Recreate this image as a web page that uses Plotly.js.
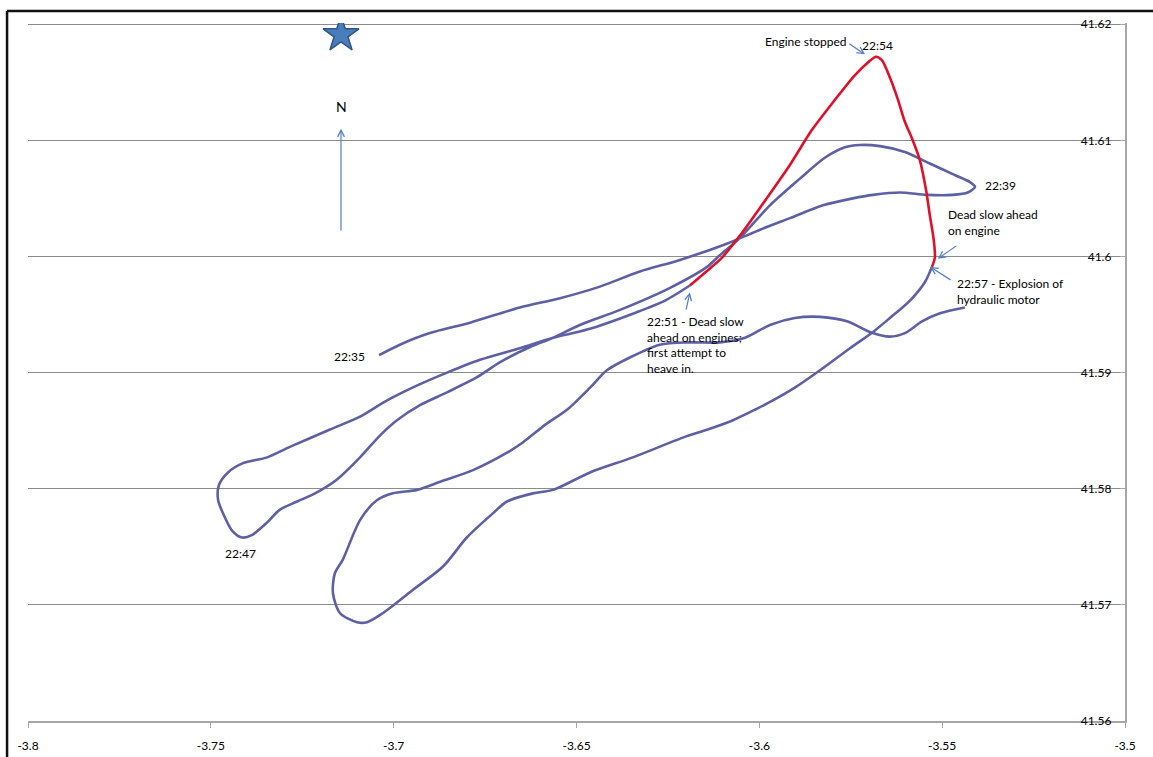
<!DOCTYPE html>
<html>
<head>
<meta charset="utf-8">
<script src="https://cdn.plot.ly/plotly-3.0.1.min.js"></script>
<style>
  html, body { margin: 0; padding: 0; background: #ffffff; }
  #chart { width: 1153px; height: 757px; }
</style>
</head>
<body>
<div id="chart"></div>
<script>
// Track 22:35 -> 22:51 (blue)
const trackLon = [-3.7040,-3.6983,-3.6901,-3.6791,-3.6655,-3.6545,-3.6436,-3.6327,-3.6217,-3.6089,-3.5998,-3.5916,-3.5826,-3.5744,-3.5689,-3.5616,-3.5542,-3.5471,-3.5430,-3.5410,
  -3.5424,-3.5465,-3.5534,-3.5602,-3.5670,-3.5725,-3.5766,-3.5821,-3.5889,-3.5971,-3.6053,-3.6108,-3.6143,-3.6244,-3.6381,-3.6491,-3.6564,-3.6627,-3.6709,-3.6772,-3.6854,-3.6928,-3.6991,-3.7037,-3.7092,-3.7155,-3.7215,-3.7264,-3.7311,-3.7346,-3.7388,-3.7415,
  -3.7442,-3.7464,-3.7480,-3.7478,-3.7453,-3.7412,-3.7346,-3.7284,-3.7174,-3.7092,-3.7018,-3.6928,-3.6854,-3.6764,-3.6655,-3.6564,-3.6471,-3.6335,-3.6258,-3.6190];
const trackLat = [41.5915,41.5924,41.5934,41.5943,41.5956,41.5964,41.5974,41.5987,41.5997,41.6011,41.6023,41.6033,41.6044,41.6050,41.6053,41.6055,41.6053,41.6053,41.6055,41.6060,
  41.6064,41.6070,41.6080,41.6090,41.6095,41.6096,41.6094,41.6085,41.6067,41.6044,41.6016,41.6001,41.5991,41.5973,41.5954,41.5941,41.5930,41.5922,41.5909,41.5896,41.5883,41.5872,41.5859,41.5846,41.5827,41.5808,41.5796,41.5789,41.5782,41.5771,41.5760,41.5758,
  41.5764,41.5777,41.5790,41.5803,41.5814,41.5822,41.5827,41.5836,41.5851,41.5862,41.5876,41.5890,41.5900,41.5911,41.5921,41.5930,41.5937,41.5952,41.5962,41.5975];

// 22:51 -> 22:57 (red)
const redLon = [-3.6190,-3.6149,-3.6102,-3.6053,-3.5998,-3.5916,-3.5856,-3.5793,-3.5739,-3.5703,-3.5681,-3.5665,-3.5643,-3.5621,-3.5602,-3.5583,-3.5561,-3.5544,-3.5534,-3.5523,-3.5520,-3.5528];
const redLat = [41.5975,41.5986,41.5999,41.6018,41.6042,41.6079,41.6109,41.6135,41.6156,41.6167,41.6172,41.6169,41.6154,41.6135,41.6116,41.6102,41.6083,41.6057,41.6036,41.6014,41.5999,41.5991];

// 22:57 -> end (blue)
const afterLon = [-3.5528,-3.5547,-3.5588,-3.5643,-3.5689,-3.5752,-3.5834,-3.5903,-3.5963,-3.6012,-3.6072,-3.6141,-3.6209,-3.6346,-3.6463,-3.6564,-3.6619,-3.6690,-3.6728,-3.6800,-3.6865,-3.6947,-3.7029,-3.7073,-3.7100,
  -3.7147,-3.7166,-3.7161,-3.7139,-3.7092,-3.7046,-3.7002,-3.6936,-3.6873,-3.6783,-3.6690,-3.6646,-3.6586,-3.6526,-3.6463,-3.6417,-3.6354,-3.6272,-3.6190,-3.6108,-3.6039,-3.5971,-3.5903,-3.5834,-3.5758,-3.5698,-3.5643,-3.5602,-3.5555,-3.5506,-3.5438];
const afterLat = [41.5991,41.5978,41.5962,41.5947,41.5935,41.5921,41.5902,41.5887,41.5876,41.5868,41.5859,41.5851,41.5844,41.5827,41.5814,41.5799,41.5796,41.5789,41.5779,41.5758,41.5733,41.5713,41.5693,41.5685,41.5685,
  41.5693,41.5710,41.5727,41.5739,41.5773,41.5790,41.5796,41.5799,41.5806,41.5816,41.5831,41.5840,41.5855,41.5868,41.5887,41.5902,41.5913,41.5924,41.5926,41.5926,41.5930,41.5941,41.5947,41.5948,41.5944,41.5935,41.5931,41.5934,41.5944,41.5951,41.5956];

// Marker (star)
const starLon = [-3.7144];
const starLat = [41.6191];

// Ticks
const xTickVals = [-3.8, -3.75, -3.7, -3.65, -3.6, -3.55, -3.5];
const xTickText = ['-3.8', '-3.75', '-3.7', '-3.65', '-3.6', '-3.55', '-3.5'];
const yTickVals = [41.56, 41.57, 41.58, 41.59, 41.6, 41.61, 41.62];
const yTickText = ['41.56', '41.57', '41.58', '41.59', '41.6', '41.61', '41.62'];

const BLUE = '#5e60a4';
const RED = '#e0102a';
const ARROW = '#4f81c4';
const FONT = 'Lato, "Liberation Sans", sans-serif';

const traces = [
  {x: trackLon, y: trackLat, mode: 'lines', line: {color: BLUE, width: 2.6, shape: 'spline', smoothing: 0.8}, hoverinfo: 'skip'},
  {x: afterLon, y: afterLat, mode: 'lines', line: {color: BLUE, width: 2.6, shape: 'spline', smoothing: 0.8}, hoverinfo: 'skip'},
  {x: redLon, y: redLat, mode: 'lines', line: {color: RED, width: 2.6, shape: 'spline', smoothing: 0.8}, hoverinfo: 'skip'},
  {x: starLon, y: starLat, mode: 'markers', marker: {symbol: 'star', size: 27, color: '#4a7ebb', line: {color: '#2f5589', width: 1.5}}, hoverinfo: 'skip'}
];

function txt(x, y, text, xanchor, size) {
  return {x: x, y: y, xref: 'x', yref: 'y', text: text, showarrow: false, xanchor: xanchor, yanchor: 'middle', align: 'left',
          font: {family: FONT, size: size || 12, color: '#000000'}};
}
function arr(x, y, ax, ay) {
  return {x: x, y: y, ax: ax, ay: ay, xref: 'x', yref: 'y', axref: 'x', ayref: 'y', text: '', showarrow: true,
          arrowhead: 5, arrowsize: 1.1, arrowwidth: 1.2, arrowcolor: ARROW, standoff: 0, startstandoff: 0};
}

const annotations = [
  txt(-3.5875, 41.6185, 'Engine stopped', 'center'),
  txt(-3.5676, 41.6182, '22:54', 'center'),
  arr(-3.5711, 41.6174, -3.5758, 41.6184),
  txt(-3.5389, 41.6061, '22:39', 'left'),
  txt(-3.5490, 41.6029, 'Dead slow ahead<br>on engine', 'left'),
  arr(-3.5512, 41.5998, -3.5457, 41.6010),
  txt(-3.5465, 41.5970, '22:57 - Explosion of<br>hydraulic motor', 'left'),
  arr(-3.5533, 41.5991, -3.5473, 41.5979),
  txt(-3.6313, 41.5924, '22:51 - Dead slow<br>ahead on engines;<br>first attempt to<br>heave in.', 'left'),
  arr(-3.6190, 41.5969, -3.6201, 41.5953),
  txt(-3.7073, 41.5914, '22:35', 'right'),
  txt(-3.7420, 41.5744, '22:47', 'center'),
  txt(-3.7144, 41.6129, 'N', 'center', 14),
  arr(-3.7144, 41.6110, -3.7144, 41.6021)
];

const layout = {
  width: 1153, height: 757,
  margin: {l: 28, r: 28, t: 23, b: 36},
  paper_bgcolor: '#ffffff', plot_bgcolor: '#ffffff',
  showlegend: false,
  font: {family: FONT, size: 12, color: '#000000'},
  xaxis: {
    range: [-3.8000001, -3.4999999], tickmode: 'array', tickvals: xTickVals, ticktext: xTickText,
    showgrid: false, zeroline: false, showline: true, linecolor: '#a6a6a6', linewidth: 1.5,
    ticks: 'outside', ticklen: 5, tickcolor: '#a6a6a6', ticklabelstandoff: 8, ticklabeloverflow: 'allow',
    tickfont: {family: FONT, size: 12, color: '#000000'}
  },
  yaxis: {
    range: [41.5599999, 41.6201], tickmode: 'array', tickvals: yTickVals, ticktext: yTickText,
    side: 'right', ticklabelposition: 'inside', ticklabeloverflow: 'allow', ticklabelstandoff: 8,
    showgrid: true, gridcolor: '#8c8c8c', gridwidth: 1, zeroline: false,
    showline: true, linecolor: '#a6a6a6', linewidth: 1.5,
    ticks: 'inside', ticklen: 5, tickcolor: '#a6a6a6',
    tickfont: {family: FONT, size: 12, color: '#000000'}
  },
  annotations: annotations,
  shapes: [
    {type: 'line', xref: 'paper', yref: 'paper', x0: -0.0191, x1: 1.06, y0: 1.0172, y1: 1.0172, line: {color: '#111111', width: 2.5}},
    {type: 'line', xref: 'paper', yref: 'paper', x0: -0.0191, x1: -0.0191, y0: 1.0172, y1: -0.07, line: {color: '#111111', width: 2.5}}
  ]
};

Plotly.newPlot('chart', traces, layout, {staticPlot: true, displayModeBar: false});
</script>
</body>
</html>
